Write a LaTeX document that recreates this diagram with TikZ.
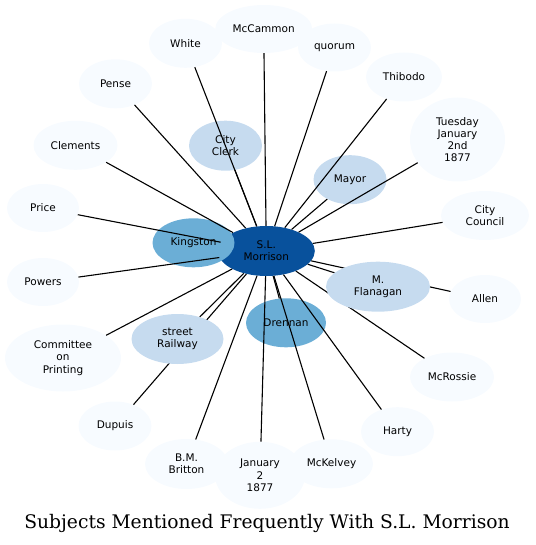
\documentclass[tikz,border=0pt]{standalone}
\usepackage{fontspec}
\setmainfont{DejaVu Sans}
\newfontfamily\titlefont{DejaVu Serif}
\usetikzlibrary{shapes.geometric}
\definecolor{c0}{HTML}{F7FBFF}
\definecolor{c1}{HTML}{C6DBEF}
\definecolor{c2}{HTML}{6BAED6}
\definecolor{c3}{HTML}{08519C}
\pgfdeclarelayer{bg}
\pgfdeclarelayer{fg}
\pgfsetlayers{bg,main,fg}
\tikzset{
  bubble/.style={ellipse, draw=none, inner sep=0pt, align=center,
    font=\fontsize{10.5}{12.2}\selectfont},
  outer/.style={bubble, fill=c0},
  lite/.style={bubble, fill=c1},
  mid/.style={bubble, fill=c2},
  dark/.style={bubble, fill=c3},
  link/.style={draw=black, line width=1.1pt},
  sz/.style 2 args={minimum width=#1pt, minimum height=#2pt}
}
\begin{document}
\begin{tikzpicture}[x=1pt,y=-1pt]
\useasboundingbox (0,0) rectangle (535,545);
\begin{pgfonlayer}{bg}
% outer nodes
\node[outer, sz={73}{49}] (white) at (185.5,43.3) {White};
\node[outer, sz={97}{48}] (mccammon) at (263.7,29) {McCammon};
\node[outer, sz={73}{48}] (quorum) at (334.5,47.5) {quorum};
\node[outer, sz={76}{49}] (thibodo) at (404,77) {Thibodo};
\node[outer, sz={95}{84}] (tuesday) at (457.5,139.5) {Tuesday\\January\\2nd\\1877};
\node[outer, sz={88}{49}] (council) at (485,215.5) {City\\Council};
\node[outer, sz={72}{48}] (allen) at (485,299) {Allen};
\node[outer, sz={84}{49}] (mcrossie) at (452,377) {McRossie};
\node[outer, sz={73}{49}] (harty) at (397.5,431.7) {Harty};
\node[outer, sz={83}{49}] (mckelvey) at (331.5,463.8) {McKelvey};
\node[outer, sz={83}{50}] (britton) at (186.5,464) {B.M.\\Britton};
\node[outer, sz={90}{67}] (jan2) at (260,475.3) {January\\2\\1877};
\node[outer, sz={73}{49}] (dupuis) at (115,426) {Dupuis};
\node[outer, sz={116}{67}] (committee) at (63,358) {Committee\\on\\Printing};
\node[outer, sz={72}{48}] (powers) at (43,282) {Powers};
\node[outer, sz={72}{48}] (price) at (43,208) {Price};
\node[outer, sz={84}{49}] (clements) at (75.5,145.3) {Clements};
\node[outer, sz={73}{49}] (pense) at (115.5,83.8) {Pense};
% inner nodes drawn below the connectors
\node[dark, sz={97}{50}] (m) at (266.3,251) {S.L.\\Morrison};
\node[mid, sz={82}{49}] (kingston) at (193.5,242.8) {Kingston};
\node[lite, sz={73}{50}] (clerk) at (225.5,145.7) {City\\Clerk};
\node[lite, sz={73}{49}] (mayor) at (350,179.7) {Mayor};
\node[mid, sz={80}{49}] (drennan) at (286,322.8) {Drennan};
\end{pgfonlayer}
\begin{pgfonlayer}{fg}
\node[lite, sz={104}{50}] (flanagan) at (378,286.7) {M.\\Flanagan};
\node[lite, sz={92}{50}] (railway) at (177.5,339) {street\\Railway};
\end{pgfonlayer}
% connectors
\foreach \n in {white,mccammon,quorum,thibodo,tuesday,council,allen,mcrossie,
  harty,mckelvey,britton,jan2,dupuis,committee,powers,price,clements,pense,
  clerk,mayor,drennan,flanagan,railway}
  {\draw[link] (m) -- (\n);}
\node[font=\titlefont\fontsize{18.7}{22}\selectfont, anchor=base] (title) at (267,528)
  {Subjects Mentioned Frequently With S.L. Morrison};
\end{tikzpicture}
\end{document}
